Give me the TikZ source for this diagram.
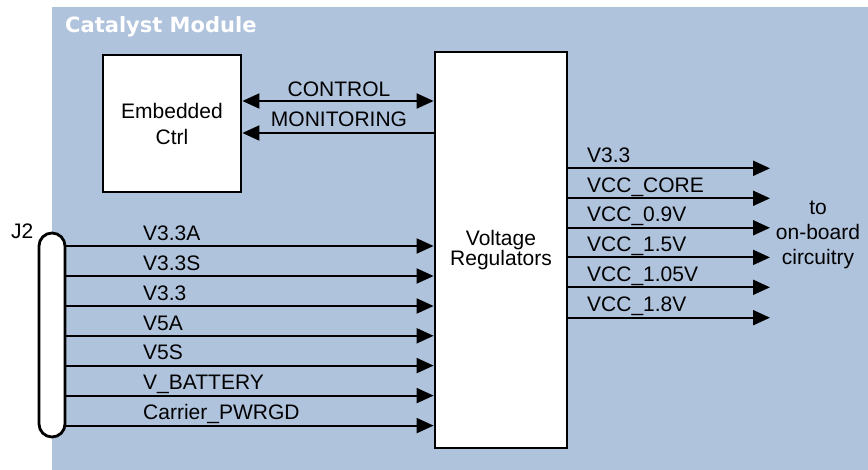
\documentclass[tikz,border=0pt]{standalone}
\usepackage{fontspec}
\setmainfont{Liberation Sans}
\newfontfamily\titlefont{DejaVu Sans}
\usetikzlibrary{arrows.meta}
\definecolor{bgblue}{RGB}{176,195,221}
\tikzset{
  arr/.style={line width=2pt, -{Triangle[length=17pt,width=15pt]}},
  darr/.style={line width=2pt, {Triangle[length=17pt,width=15pt]}-{Triangle[length=17pt,width=15pt]}},
  blockbox/.style={draw=black, fill=white, line width=2.8pt, inner sep=0pt, align=center},
  lbl/.style={inner sep=0pt, font=\fontsize{21}{24}\selectfont, anchor=base west},
  clbl/.style={inner sep=0pt, font=\fontsize{21}{24}\selectfont, anchor=base},
}
\begin{document}
\begin{tikzpicture}[x=1pt,y=-1pt]
\useasboundingbox (0,0) rectangle (868,470);
\fill[bgblue] (52,7) rectangle (868,470);
\node[inner sep=0pt, anchor=base west, text=white, font=\titlefont\bfseries\fontsize{21}{24}\selectfont] (title) at (65,32.5) {Catalyst Module};

% blocks
\node[blockbox, minimum width=138pt, minimum height=137pt, font=\fontsize{21}{26}\selectfont] (ec) at (172,123.5) {Embedded\\Ctrl};
\node[blockbox, minimum width=132pt, minimum height=396pt, font=\fontsize{21}{17}\selectfont] (vr) at (501,250) {Voltage\\Regulators};
\node[draw=black, fill=white, line width=2.8pt, rounded corners=13pt, minimum width=26pt, minimum height=204pt, inner sep=0pt] (j2) at (52,335) {};
\node[inner sep=0pt, font=\fontsize{21}{24}\selectfont, anchor=base east] (j2lbl) at (33.5,239) {J2};

% control / monitoring
\draw[darr] (ec.east |- 0,101) -- (vr.west |- 0,101);
\draw[arr] (vr.west |- 0,133) -- (ec.east |- 0,133);
\node[clbl] (lctrl) at (339,97) {CONTROL};
\node[clbl] (lmon) at (339,127) {MONITORING};

% inputs
\foreach \y/\t/\n in {246/V3.3A/i1, 276/V3.3S/i2, 306/V3.3/i3, 335.8/V5A/i4, 365.6/V5S/i5, 395.6/V\_BATTERY/i6, 425.6/Carrier\_PWRGD/i7}{
  \draw[arr] (j2.east |- 0,\y) -- (vr.west |- 0,\y);
  \node[lbl] (\n) at (143,\y-5.6) {\t};
}

% outputs
\foreach \y/\t/\n in {168.3/V3.3/o1, 198.3/VCC\_CORE/o2, 227.8/VCC\_0.9V/o3, 257.4/VCC\_1.5V/o4, 287.3/VCC\_1.05V/o5, 317.7/VCC\_1.8V/o6}{
  \coordinate (\n) at (770,\y);
  \draw[arr] (vr.east |- \n) -- (\n);
  \node[lbl] (l\n) at (587,\y-6) {\t};
}

\node[inner sep=0pt, align=center, font=\fontsize{21}{25}\selectfont, anchor=base] (dest) at (818,265) {to\\on-board\\circuitry};
\end{tikzpicture}
\end{document}
